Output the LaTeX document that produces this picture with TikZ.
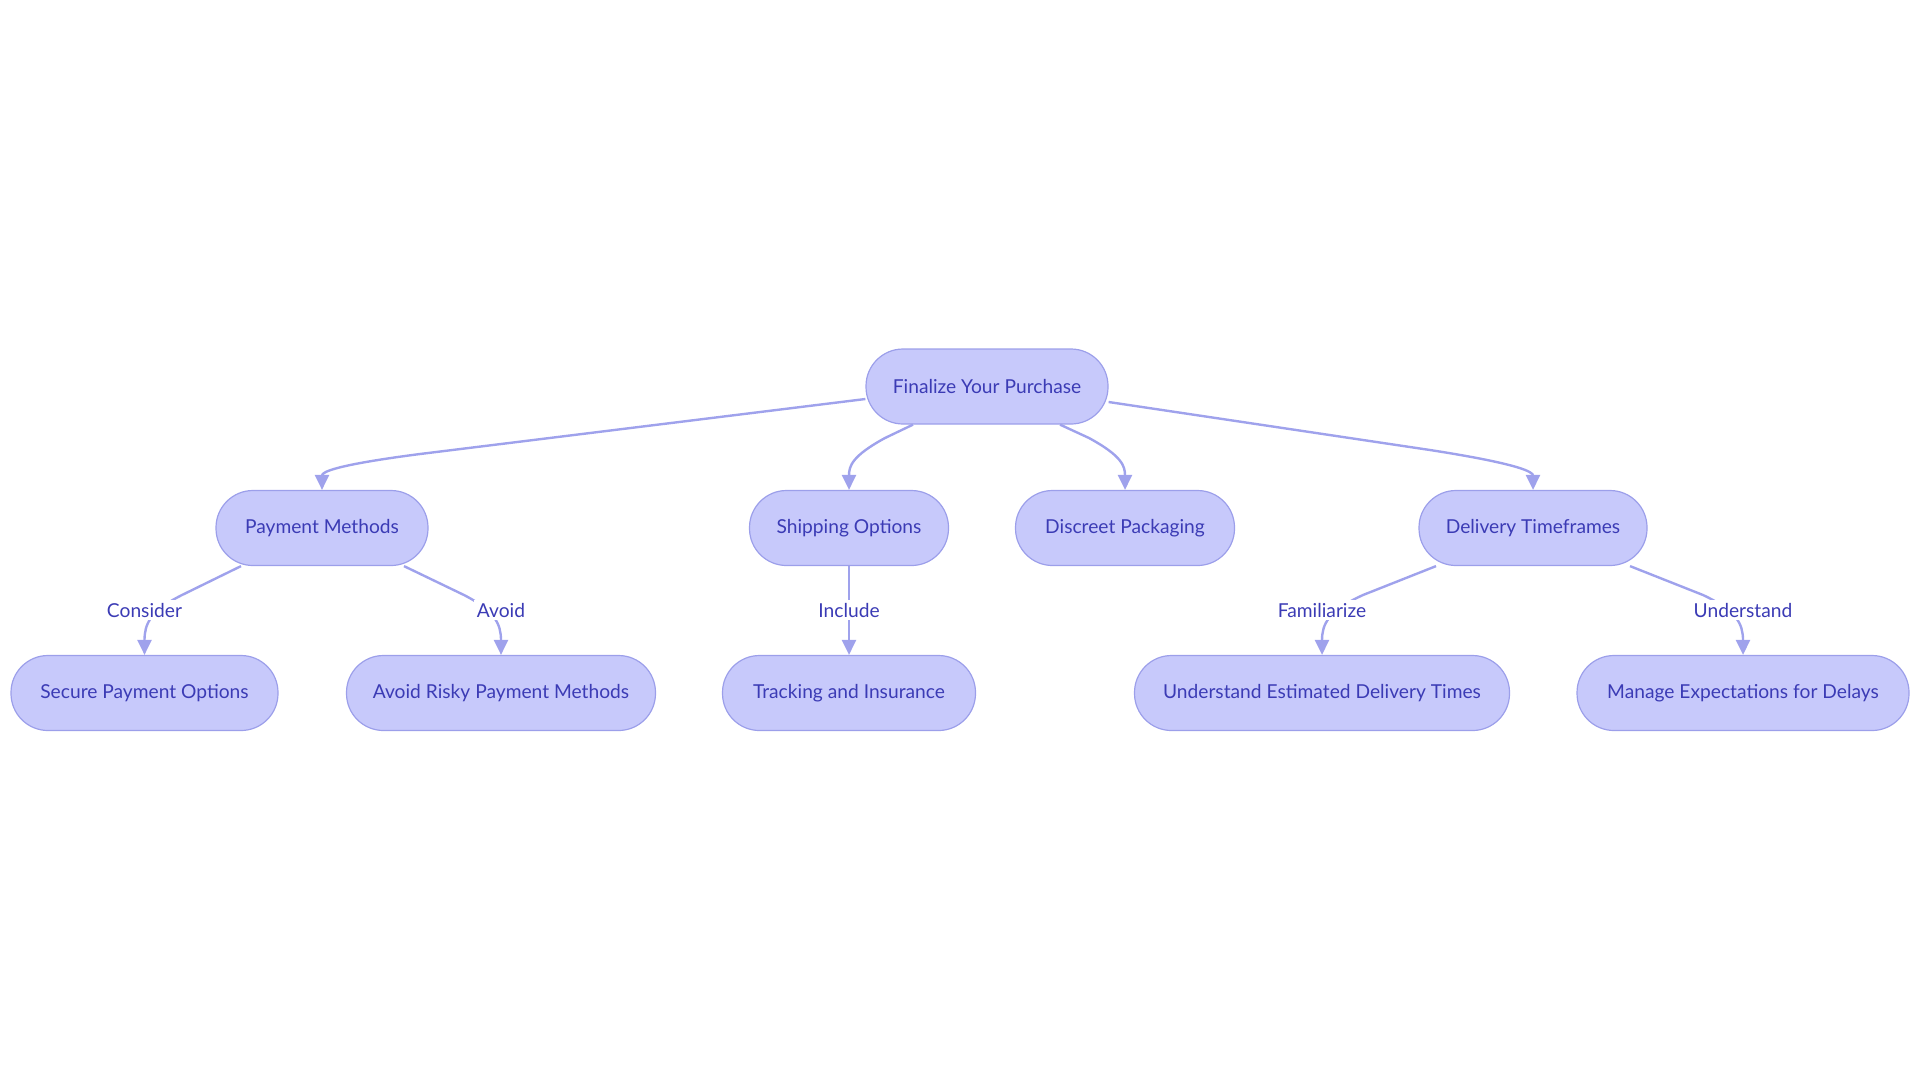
\documentclass[tikz,border=0pt]{standalone}
\usepackage{fontspec}
\setmainfont{Lato}
\usetikzlibrary{arrows.meta,calc}
\definecolor{nodefill}{HTML}{C7C9FB}
\definecolor{nodeline}{HTML}{9C9FEA}
\definecolor{txt}{HTML}{3B3BB5}
\definecolor{edge}{HTML}{9FA2EC}
\tikzset{
  box/.style={draw=nodeline, line width=0.6pt, fill=nodefill, rounded corners=18.5pt,
    minimum height=37.5pt, inner xsep=0pt, text=txt, font=\fontsize{9.6}{11.5}\selectfont},
  link/.style={draw=edge, line width=1.2pt, -{Triangle[length=7.5pt,width=7pt]}},
  lbl/.style={fill=white, text=txt, inner sep=1.5pt, font=\fontsize{9.6}{11.5}\selectfont}
}
\begin{document}
\begin{tikzpicture}[x=0.5pt,y=-0.5pt]
\useasboundingbox (0,0) rectangle (1920,1083);
% nodes
\node[box, minimum width=121pt] (top) at (987,386.5) {Finalize Your Purchase};
\node[box, minimum width=106pt] (pay) at (322,528) {Payment Methods};
\node[box, minimum width=99.5pt] (ship) at (849,528) {Shipping Options};
\node[box, minimum width=109.5pt] (disc) at (1125,528) {Discreet Packaging};
\node[box, minimum width=114pt] (deliv) at (1533,528) {Delivery Timeframes};
\node[box, minimum width=133.5pt] (secure) at (144.5,693) {Secure Payment Options};
\node[box, minimum width=154.5pt] (avoid) at (501,693) {Avoid Risky Payment Methods};
\node[box, minimum width=126.5pt] (track) at (849,693) {Tracking and Insurance};
\node[box, minimum width=187.5pt] (uedt) at (1322,693) {Understand Estimated Delivery Times};
\node[box, minimum width=166pt] (manage) at (1743,693) {Manage Expectations for Delays};
% edges from top
\draw[link] ($(top.west)+(0,12.5)$) -- (420,454) .. controls (335,465) and (322,472) .. (pay.north);
\draw[link] ($(top.south)+(-74,0)$) -- (885,438) .. controls (852,456) and (849,466) .. (ship.north);
\draw[link] ($(top.south)+(73,0)$) -- (1089,438) .. controls (1122,456) and (1125,466) .. (disc.north);
\draw[link] ($(top.east)+(0,15.5)$) -- (1430,450) .. controls (1520,464) and (1533,472) .. (deliv.north);
% second level
\draw[link] ($(pay.south)+(-81,0)$) -- (182,595) .. controls (150,611) and (144.5,624) .. (secure.north);
\draw[link] ($(pay.south)+(82,0)$) -- (464,595) .. controls (495,611) and (501,624) .. (avoid.north);
\draw[link] (ship.south) -- (track.north);
\draw[link] ($(deliv.south)+(-97,0)$) -- (1363,595) .. controls (1328,611) and (1322,624) .. (uedt.north);
\draw[link] ($(deliv.south)+(97,0)$) -- (1703,595) .. controls (1737,611) and (1743,624) .. (manage.north);
% labels
\node[lbl] (l1) at (144.5,610) {Consider};
\node[lbl] (l2) at (501,610) {Avoid};
\node[lbl] (l3) at (849,610) {Include};
\node[lbl] (l4) at (1322,610) {Familiarize};
\node[lbl] (l5) at (1743,610) {Understand};
\end{tikzpicture}
\end{document}
